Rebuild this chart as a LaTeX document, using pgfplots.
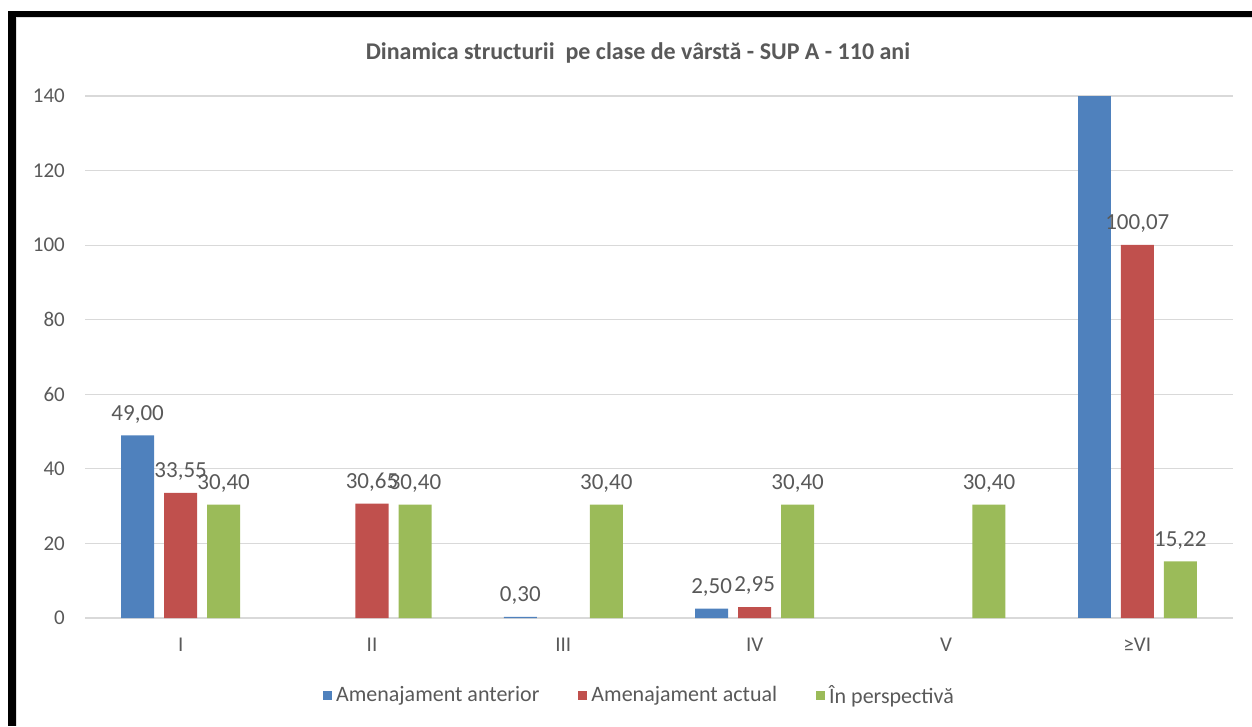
\documentclass[border=0pt]{standalone}
\usepackage{fontspec}
\setmainfont{Carlito}
\usepackage{pgfplots}
\pgfplotsset{compat=1.18}
\definecolor{cblue}{HTML}{4F81BD}
\definecolor{cred}{HTML}{C0504D}
\definecolor{cgreen}{HTML}{9BBB59}
\definecolor{textgray}{HTML}{595959}
\definecolor{gridgray}{HTML}{D9D9D9}
\pgfplotsset{sqleg/.style={legend image code/.code={\fill[##1] (0pt,-4.5pt) rectangle (9pt,4.5pt);}}}
\begin{document}
\begin{tikzpicture}[x=1pt,y=1pt]
\path[use as bounding box] (0,0) rectangle (1252,726);
\fill[black] (8,0) rectangle (16,715);
\fill[black] (8,709) rectangle (1252,715);
\draw[gray!25, line width=1pt] (16.5,0) -- (16.5,708.5) -- (1252,708.5);
\node[font=\bfseries\fontsize{24}{28}\selectfont, text=textgray] at (638,673) {Dinamica structurii\ \ pe clase de vârstă - SUP A - 110 ani};
\begin{axis}[
  at={(85pt,108pt)}, anchor=south west, scale only axis,
  width=1148pt, height=522pt,
  xmin=-0.5, xmax=5.5, ymin=0, ymax=140,
  ytick={0,20,...,140}, xtick={0,...,5},
  xticklabels={I,II,III,IV,V,≥VI},
  ymajorgrids, grid style={draw=gridgray, line width=1.2pt},
  axis line style={draw=none}, major tick length=0pt,
  tick label style={font=\fontsize{21}{25}\selectfont, text=textgray, inner sep=0pt},
  /pgf/number format/assume math mode=true,
  yticklabel style={xshift=-20pt},
  xticklabel style={yshift=-20pt},
  clip=false,
  nodes near coords={\pgfmathprintnumber[fixed,fixed zerofill,precision=2,use comma,assume math mode=true]{\pgfplotspointmeta}},
  nodes near coords style={font=\fontsize{23}{27}\selectfont, text=textgray, anchor=south, inner sep=0pt, yshift=12pt},
  legend style={at={(0.483,-0.1475)}, anchor=center, draw=none, fill=none,
    font=\fontsize{22}{26}\selectfont, text=textgray,
    /tikz/every even column/.append style={column sep=37pt},
    /tikz/every odd column/.append style={column sep=2pt}},
  legend columns=-1, legend cell align=left,
]
\addplot[ybar, bar width=33pt, bar shift=-43pt, fill=cblue, draw=none, sqleg,
  every node near coord/.append style={xshift=-43pt}]
  coordinates {(0,49.00) (2,0.30) (3,2.50)};
\addlegendentry{Amenajament anterior}
\addplot[ybar, bar width=33pt, bar shift=0pt, fill=cred, draw=none, sqleg]
  coordinates {(0,33.55) (1,30.65) (3,2.95) (5,100.07)};
\addlegendentry{Amenajament actual}
\addplot[ybar, bar width=33pt, bar shift=43pt, fill=cgreen, draw=none, sqleg,
  every node near coord/.append style={xshift=43pt}]
  coordinates {(0,30.40) (1,30.40) (2,30.40) (3,30.40) (4,30.40) (5,15.22)};
\addlegendentry{În perspectivă}
\addplot[ybar, bar width=33pt, bar shift=-43pt, fill=cblue, draw=none, nodes near coords={}, forget plot]
  coordinates {(5,140)};
\end{axis}
\end{tikzpicture}
\end{document}
